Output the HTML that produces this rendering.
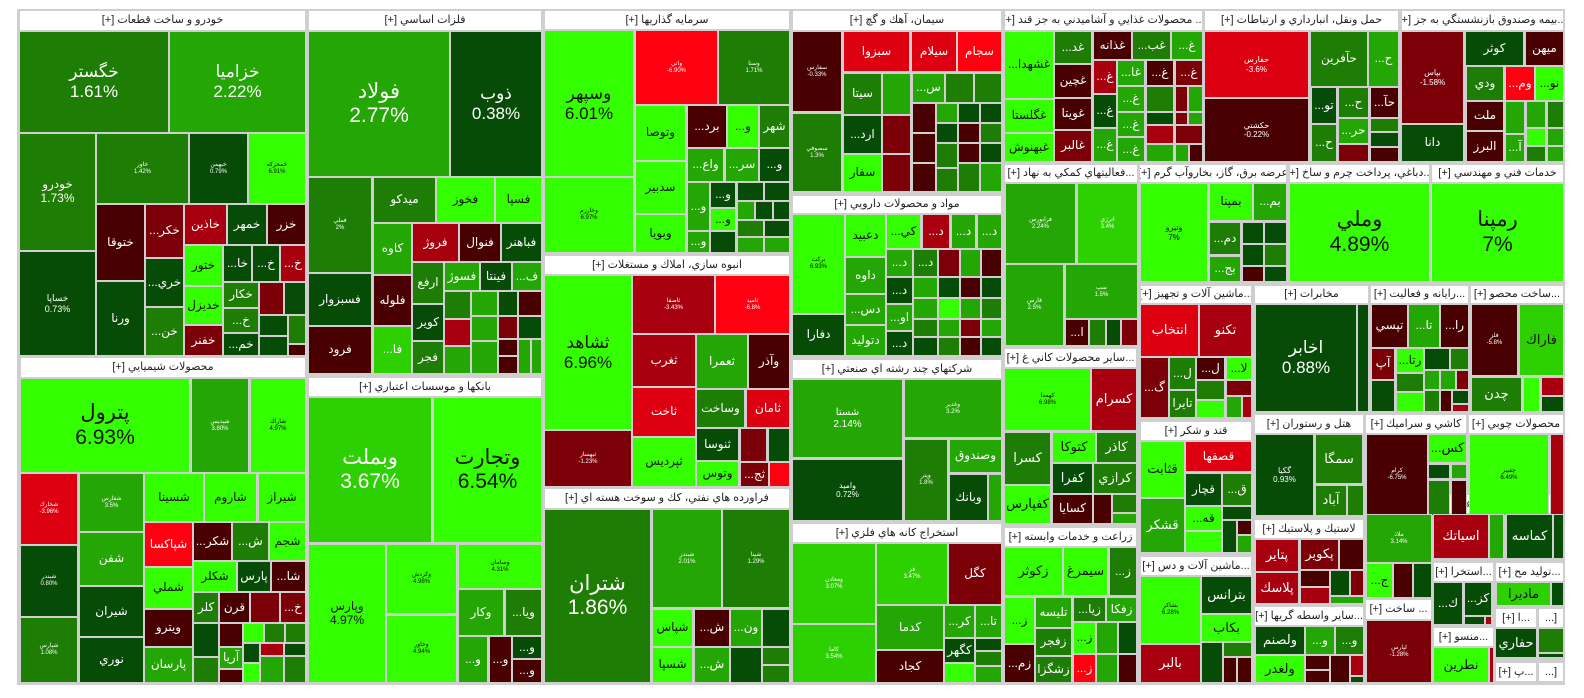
<!DOCTYPE html>
<html><head><meta charset="utf-8">
<style>
*{margin:0;padding:0}
body{width:1584px;height:698px;background:#fff;position:relative;overflow:hidden;font-family:"Liberation Sans","DejaVu Sans",sans-serif}
#bg{position:absolute;left:17px;top:9px;width:1548px;height:676px;background:#cfcfcf}
.t{position:absolute;box-sizing:border-box;border:1px solid #cfcfcf;display:flex;flex-direction:column;align-items:center;justify-content:center;text-align:center;color:#fff;font-size:12px;line-height:1.15;overflow:hidden;white-space:nowrap;
left:calc(var(--a)*1px);top:calc(var(--b)*1px);width:calc((var(--c) - var(--a) + 1)*1px);height:calc((var(--d) - var(--b) + 1)*1px)}
.h{background:#fff;color:#222;font-size:11px;direction:rtl}
.d{background:#064c06}.m{background:#1e7d04}.g{background:#24a604}.l{background:#2dd000}.b{background:#33ff00;color:#111}
.r1{background:#480000}.r2{background:#7b0008}.r3{background:#a8000e}.r4{background:#dd0010}.r5{background:#ff0010}
.L{font-size:17px}.X{font-size:21px}.S{font-size:6px}.k{color:#111}.M{font-size:13px}
</style></head><body>
<div id="bg"></div>
<div class="t h" style="--a:19;--b:10;--c:305;--d:30">خودرو و ساخت قطعات [+]</div>
<div class="t h" style="--a:20;--b:357;--c:305;--d:377">محصولات شيميايي [+]</div>
<div class="t h" style="--a:308;--b:10;--c:541;--d:30">فلزات اساسي [+]</div>
<div class="t h" style="--a:308;--b:377;--c:541;--d:396">بانكها و موسسات اعتباري [+]</div>
<div class="t h" style="--a:544;--b:10;--c:789;--d:29">سرمايه گذاريها [+]</div>
<div class="t h" style="--a:544;--b:255;--c:789;--d:274">انبوه سازي، املاك و مستغلات [+]</div>
<div class="t h" style="--a:544;--b:488;--c:789;--d:508">فراورده هاي نفتي، كك و سوخت هسته اي [+]</div>
<div class="t h" style="--a:792;--b:10;--c:1001;--d:30">سيمان، آهك و گچ [+]</div>
<div class="t h" style="--a:792;--b:195;--c:1001;--d:213">مواد و محصولات دارويي [+]</div>
<div class="t h" style="--a:792;--b:359;--c:1001;--d:378">شركتهاي چند رشته اي صنعتي [+]</div>
<div class="t h" style="--a:792;--b:523;--c:1001;--d:542">استخراج كانه هاي فلزي [+]</div>
<div class="t h" style="--a:1004;--b:10;--c:1202;--d:30">... محصولات غذايي و آشاميدني به جز قند [+]</div>
<div class="t h" style="--a:1204;--b:10;--c:1398;--d:30">حمل ونقل، انبارداري و ارتباطات [+]</div>
<div class="t h" style="--a:1401;--b:10;--c:1563;--d:30">...بيمه وصندوق بازنشستگي به جز [+]</div>
<div class="t h" style="--a:1004;--b:164;--c:1137;--d:182">...فعاليتهاي كمكي به نهاد [+]</div>
<div class="t h" style="--a:1139;--b:164;--c:1286;--d:182">عرضه برق، گاز، بخاروآب گرم [+]</div>
<div class="t h" style="--a:1289;--b:164;--c:1429;--d:182">...دباغي، پرداخت چرم و ساخ [+]</div>
<div class="t h" style="--a:1431;--b:164;--c:1563;--d:182">خدمات فني و مهندسي [+]</div>
<div class="t h" style="--a:1140;--b:285;--c:1251;--d:303">...ماشين آلات و تجهيز [+]</div>
<div class="t h" style="--a:1254;--b:285;--c:1368;--d:303">مخابرات [+]</div>
<div class="t h" style="--a:1370;--b:285;--c:1468;--d:303">...رايانه و فعاليت [+]</div>
<div class="t h" style="--a:1470;--b:285;--c:1563;--d:303">...ساخت محصو [+]</div>
<div class="t h" style="--a:1004;--b:348;--c:1136;--d:367">...ساير محصولات كاني غ [+]</div>
<div class="t h" style="--a:1140;--b:421;--c:1251;--d:440">قند و شكر [+]</div>
<div class="t h" style="--a:1254;--b:414;--c:1363;--d:433">هتل و رستوران [+]</div>
<div class="t h" style="--a:1365;--b:414;--c:1466;--d:433">كاشي و سراميك [+]</div>
<div class="t h" style="--a:1468;--b:414;--c:1563;--d:433">محصولات چوبي [+]</div>
<div class="t h" style="--a:1004;--b:527;--c:1136;--d:546">زراعت و خدمات وابسته [+]</div>
<div class="t h" style="--a:1140;--b:556;--c:1251;--d:575">...ماشين آلات و دس [+]</div>
<div class="t h" style="--a:1254;--b:519;--c:1363;--d:538">لاستيك و پلاستيك [+]</div>
<div class="t h" style="--a:1254;--b:606;--c:1363;--d:625">...ساير واسطه گريها [+]</div>
<div class="t h" style="--a:1365;--b:494;--c:1431;--d:513">...محصو [+]</div>
<div class="t h" style="--a:1365;--b:599;--c:1431;--d:619">... ساخت [+]</div>
<div class="t h" style="--a:1433;--b:494;--c:1503;--d:513">...اطلاعات [+]</div>
<div class="t h" style="--a:1505;--b:494;--c:1563;--d:513">...استخر [+]</div>
<div class="t h" style="--a:1433;--b:562;--c:1493;--d:581">...استخرا [+]</div>
<div class="t h" style="--a:1495;--b:562;--c:1563;--d:581">...توليد مح [+]</div>
<div class="t h" style="--a:1495;--b:608;--c:1536;--d:627">...ا [+]</div>
<div class="t h" style="--a:1538;--b:608;--c:1563;--d:627">[...</div>
<div class="t h" style="--a:1433;--b:627;--c:1493;--d:646">...منسو [+]</div>
<div class="t h" style="--a:1495;--b:662;--c:1536;--d:681">...پ [+]</div>
<div class="t h" style="--a:1538;--b:662;--c:1563;--d:681">[...</div>

<div class="t m L" style="--a:19;--b:31;--c:168;--d:132">خگستر<br>1.61%</div>
<div class="t g L" style="--a:169;--b:31;--c:305;--d:132">خزاميا<br>2.22%</div>
<div class="t m" style="--a:19;--b:133;--c:95;--d:250">خودرو<br>1.73%</div>
<div class="t d" style="--a:19;--b:251;--c:95;--d:355"><span style="font-size:9px">خساپا<br>0.73%</span></div>
<div class="t m S" style="--a:96;--b:133;--c:188;--d:203">خاور<br>1.42%</div>
<div class="t d S" style="--a:189;--b:133;--c:247;--d:203">خبهمن<br>0.79%</div>
<div class="t b S" style="--a:248;--b:133;--c:305;--d:203">خمحركه<br>6.91%</div>
<div class="t r1" style="--a:96;--b:204;--c:144;--d:280">ختوقا</div>
<div class="t d" style="--a:96;--b:281;--c:144;--d:355">ورنا</div>
<div class="t r2" style="--a:145;--b:204;--c:183;--d:257">...خكر</div>
<div class="t d" style="--a:145;--b:258;--c:183;--d:306">...خري</div>
<div class="t m" style="--a:145;--b:307;--c:183;--d:355">...خن</div>
<div class="t r3" style="--a:184;--b:204;--c:226;--d:244">خاذين</div>
<div class="t d" style="--a:227;--b:204;--c:266;--d:244">خمهر</div>
<div class="t r1" style="--a:267;--b:204;--c:305;--d:244">خزر</div>
<div class="t b" style="--a:184;--b:245;--c:222;--d:285">ختور</div>
<div class="t b" style="--a:184;--b:286;--c:222;--d:324">خديزل</div>
<div class="t r2" style="--a:184;--b:325;--c:222;--d:355">خفنر</div>
<div class="t d" style="--a:223;--b:245;--c:251;--d:281">...خا</div>
<div class="t d" style="--a:252;--b:245;--c:279;--d:281">...خ</div>
<div class="t r3" style="--a:280;--b:245;--c:305;--d:281">...خ</div>
<div class="t m" style="--a:223;--b:282;--c:258;--d:307">خكار</div>
<div class="t m" style="--a:223;--b:308;--c:258;--d:332">...خ</div>
<div class="t d" style="--a:223;--b:333;--c:258;--d:355">...خم</div>
<div class="t r2" style="--a:259;--b:282;--c:283;--d:314"></div>
<div class="t d" style="--a:284;--b:282;--c:305;--d:314"></div>
<div class="t d" style="--a:259;--b:315;--c:287;--d:335"></div>
<div class="t m" style="--a:288;--b:315;--c:305;--d:343"></div>
<div class="t d" style="--a:259;--b:336;--c:287;--d:355"></div>
<div class="t r1" style="--a:288;--b:344;--c:305;--d:355"></div>

<div class="t g X" style="--a:308;--b:31;--c:449;--d:176">فولاد<br>2.77%</div>
<div class="t d L" style="--a:450;--b:31;--c:541;--d:176">ذوب<br>0.38%</div>
<div class="t m S" style="--a:308;--b:177;--c:371;--d:272">فملي<br>2%</div>
<div class="t d" style="--a:308;--b:273;--c:371;--d:325">فسبزوار</div>
<div class="t r1" style="--a:308;--b:326;--c:371;--d:373">فرود</div>
<div class="t m" style="--a:373;--b:177;--c:435;--d:222">ميدكو</div>
<div class="t b" style="--a:436;--b:177;--c:494;--d:222">فخوز</div>
<div class="t b" style="--a:495;--b:177;--c:541;--d:222">فسپا</div>
<div class="t g" style="--a:373;--b:223;--c:411;--d:274">كاوه</div>
<div class="t r1" style="--a:373;--b:275;--c:411;--d:325">فلوله</div>
<div class="t l" style="--a:373;--b:326;--c:411;--d:373">...فا</div>
<div class="t r3" style="--a:412;--b:223;--c:458;--d:261">فروژ</div>
<div class="t r1" style="--a:459;--b:223;--c:500;--d:261">فنوال</div>
<div class="t d" style="--a:501;--b:223;--c:541;--d:261">فباهنر</div>
<div class="t m" style="--a:412;--b:262;--c:443;--d:303">ارفع</div>
<div class="t d" style="--a:412;--b:304;--c:443;--d:340">كوير</div>
<div class="t m" style="--a:412;--b:341;--c:443;--d:373">فجر</div>
<div class="t g" style="--a:444;--b:262;--c:479;--d:290">فسوژ</div>
<div class="t d" style="--a:480;--b:262;--c:511;--d:290">فينتا</div>
<div class="t g" style="--a:512;--b:262;--c:541;--d:290">...ف</div>
<div class="t m" style="--a:444;--b:291;--c:470;--d:318"></div>
<div class="t g" style="--a:471;--b:291;--c:497;--d:315"></div>
<div class="t d" style="--a:498;--b:291;--c:517;--d:315"></div>
<div class="t r1" style="--a:518;--b:291;--c:541;--d:315"></div>
<div class="t r3" style="--a:444;--b:319;--c:470;--d:345"></div>
<div class="t g" style="--a:471;--b:316;--c:497;--d:340"></div>
<div class="t r2" style="--a:498;--b:316;--c:517;--d:338"></div>
<div class="t d" style="--a:518;--b:316;--c:541;--d:338"></div>
<div class="t g" style="--a:444;--b:346;--c:470;--d:373"></div>
<div class="t g" style="--a:471;--b:341;--c:497;--d:373"></div>
<div class="t r1" style="--a:498;--b:339;--c:517;--d:355"></div>
<div class="t r1" style="--a:498;--b:356;--c:517;--d:373"></div>
<div class="t g" style="--a:518;--b:339;--c:530;--d:373"></div>
<div class="t g" style="--a:531;--b:339;--c:541;--d:373"></div>

<div class="t b X" style="--a:20;--b:378;--c:189;--d:472">پترول<br>6.93%</div>
<div class="t g S" style="--a:191;--b:378;--c:248;--d:472">شپديس<br>3.80%</div>
<div class="t b S" style="--a:250;--b:378;--c:305;--d:472">شاراك<br>4.97%</div>
<div class="t r4 S" style="--a:20;--b:473;--c:77;--d:544">شخارك<br>-3.96%</div>
<div class="t d S" style="--a:20;--b:545;--c:77;--d:616">شبندر<br>0.80%</div>
<div class="t m S" style="--a:20;--b:617;--c:77;--d:682">شپارس<br>1.08%</div>
<div class="t g S" style="--a:79;--b:473;--c:143;--d:531">شفارس<br>3.5%</div>
<div class="t g" style="--a:79;--b:532;--c:143;--d:585">شفن</div>
<div class="t d" style="--a:79;--b:586;--c:143;--d:636">شيران</div>
<div class="t d" style="--a:79;--b:637;--c:143;--d:682">نوري</div>
<div class="t b" style="--a:144;--b:473;--c:203;--d:521">شسينا</div>
<div class="t b" style="--a:204;--b:473;--c:256;--d:521">شاروم</div>
<div class="t b" style="--a:258;--b:473;--c:305;--d:521">شيراز</div>
<div class="t r5" style="--a:144;--b:522;--c:192;--d:566">شپاكسا</div>
<div class="t b" style="--a:144;--b:567;--c:192;--d:608">شملي</div>
<div class="t r1" style="--a:144;--b:609;--c:192;--d:646">ويترو</div>
<div class="t g" style="--a:144;--b:647;--c:192;--d:682">پارسان</div>
<div class="t r1" style="--a:193;--b:522;--c:231;--d:560">...شكر</div>
<div class="t m" style="--a:232;--b:522;--c:268;--d:560">...ش</div>
<div class="t b" style="--a:269;--b:522;--c:305;--d:560">شجم</div>
<div class="t b" style="--a:193;--b:561;--c:236;--d:591">شكلر</div>
<div class="t d" style="--a:237;--b:561;--c:270;--d:591">پارس</div>
<div class="t r1" style="--a:271;--b:561;--c:305;--d:591">...شا</div>
<div class="t m" style="--a:193;--b:592;--c:218;--d:622">كلر</div>
<div class="t r1" style="--a:219;--b:592;--c:249;--d:622">قرن</div>
<div class="t r2" style="--a:250;--b:592;--c:279;--d:622"></div>
<div class="t r2" style="--a:280;--b:592;--c:305;--d:622">...خ</div>
<div class="t d" style="--a:193;--b:623;--c:218;--d:656"></div>
<div class="t m" style="--a:193;--b:657;--c:218;--d:682"></div>
<div class="t r1" style="--a:219;--b:623;--c:242;--d:646"></div>
<div class="t g" style="--a:219;--b:647;--c:242;--d:668">آريا</div>
<div class="t r1" style="--a:219;--b:669;--c:242;--d:682"></div>
<div class="t b" style="--a:243;--b:623;--c:263;--d:642"></div>
<div class="t m" style="--a:264;--b:623;--c:284;--d:642"></div>
<div class="t m" style="--a:285;--b:623;--c:305;--d:642"></div>
<div class="t d" style="--a:243;--b:643;--c:259;--d:662"></div>
<div class="t r3" style="--a:260;--b:643;--c:283;--d:655"></div>
<div class="t d" style="--a:284;--b:643;--c:305;--d:655"></div>
<div class="t b" style="--a:243;--b:663;--c:259;--d:682"></div>
<div class="t g" style="--a:260;--b:656;--c:283;--d:682"></div>
<div class="t m" style="--a:284;--b:656;--c:305;--d:682"></div>

<div class="t l X" style="--a:308;--b:397;--c:431;--d:542">وبملت<br>3.67%</div>
<div class="t b X" style="--a:433;--b:397;--c:541;--d:542">وتجارت<br>6.54%</div>
<div class="t b" style="--a:308;--b:544;--c:385;--d:682">وپارس<br>4.97%</div>
<div class="t b S" style="--a:386;--b:544;--c:456;--d:613">وكردش<br>4.98%</div>
<div class="t b S" style="--a:386;--b:615;--c:456;--d:682">وخاور<br>4.94%</div>
<div class="t b S" style="--a:458;--b:544;--c:541;--d:588">وسامان<br>4.31%</div>
<div class="t g" style="--a:458;--b:589;--c:503;--d:635">وكار</div>
<div class="t m" style="--a:505;--b:589;--c:541;--d:635">...ويا</div>
<div class="t g" style="--a:458;--b:636;--c:487;--d:682">...و</div>
<div class="t r1" style="--a:489;--b:636;--c:511;--d:682">...و</div>
<div class="t d" style="--a:512;--b:636;--c:541;--d:658">...و</div>
<div class="t r1" style="--a:512;--b:659;--c:541;--d:682">...و</div>

<div class="t b L" style="--a:544;--b:30;--c:633;--d:176">وسپهر<br>6.01%</div>
<div class="t b S" style="--a:544;--b:177;--c:633;--d:252">وخارزم<br>6.97%</div>
<div class="t r5 S" style="--a:635;--b:30;--c:717;--d:104">واتي<br>-6.90%</div>
<div class="t m S" style="--a:718;--b:30;--c:789;--d:104">وسنا<br>1.71%</div>
<div class="t b" style="--a:635;--b:105;--c:685;--d:160">وتوصا</div>
<div class="t b" style="--a:635;--b:161;--c:685;--d:213">سدبير</div>
<div class="t b" style="--a:635;--b:214;--c:685;--d:252">وبويا</div>
<div class="t r1" style="--a:687;--b:105;--c:726;--d:147">...برد</div>
<div class="t b" style="--a:727;--b:105;--c:758;--d:147">...و</div>
<div class="t m" style="--a:759;--b:105;--c:789;--d:147">شهر</div>
<div class="t g" style="--a:687;--b:148;--c:723;--d:181">...واع</div>
<div class="t g" style="--a:725;--b:148;--c:758;--d:181">...سر</div>
<div class="t d" style="--a:759;--b:148;--c:789;--d:181">...و</div>
<div class="t g" style="--a:687;--b:182;--c:709;--d:230">...و</div>
<div class="t g" style="--a:687;--b:231;--c:709;--d:252">...و</div>
<div class="t d" style="--a:710;--b:182;--c:735;--d:207">...و</div>
<div class="t b" style="--a:710;--b:208;--c:735;--d:230">...و</div>
<div class="t d" style="--a:710;--b:231;--c:735;--d:252"></div>
<div class="t d" style="--a:737;--b:182;--c:763;--d:200"></div>
<div class="t d" style="--a:764;--b:182;--c:789;--d:200"></div>
<div class="t g" style="--a:737;--b:201;--c:754;--d:219"></div>
<div class="t d" style="--a:755;--b:201;--c:772;--d:219"></div>
<div class="t d" style="--a:773;--b:201;--c:789;--d:219"></div>
<div class="t m" style="--a:737;--b:220;--c:763;--d:236"></div>
<div class="t d" style="--a:764;--b:220;--c:789;--d:236"></div>
<div class="t g" style="--a:737;--b:237;--c:763;--d:252"></div>
<div class="t g" style="--a:764;--b:237;--c:789;--d:252"></div>

<div class="t b L" style="--a:544;--b:275;--c:631;--d:429">ثشاهد<br>6.96%</div>
<div class="t r2 S" style="--a:544;--b:430;--c:631;--d:486">ثبهساز<br>-1.23%</div>
<div class="t r3 S" style="--a:632;--b:275;--c:714;--d:333">ثاصفا<br>-3.43%</div>
<div class="t r5 S" style="--a:715;--b:275;--c:789;--d:333">ثاميد<br>-6.8%</div>
<div class="t r3" style="--a:632;--b:334;--c:695;--d:386">ثغرب</div>
<div class="t r4" style="--a:632;--b:387;--c:695;--d:436">ثاخت</div>
<div class="t b" style="--a:632;--b:437;--c:695;--d:486">ثپرديس</div>
<div class="t g" style="--a:696;--b:334;--c:747;--d:388">ثعمرا</div>
<div class="t r1" style="--a:748;--b:334;--c:789;--d:388">وآذر</div>
<div class="t m" style="--a:696;--b:389;--c:744;--d:427">وساخت</div>
<div class="t r4" style="--a:746;--b:389;--c:789;--d:427">ثامان</div>
<div class="t d" style="--a:696;--b:428;--c:738;--d:460">ثنوسا</div>
<div class="t b" style="--a:696;--b:461;--c:738;--d:486">وتوس</div>
<div class="t r2" style="--a:740;--b:428;--c:766;--d:461"></div>
<div class="t d" style="--a:768;--b:428;--c:789;--d:461"></div>
<div class="t r2" style="--a:740;--b:462;--c:768;--d:486">...ثج</div>
<div class="t r5" style="--a:769;--b:462;--c:789;--d:486"></div>

<div class="t m X" style="--a:544;--b:509;--c:650;--d:682">شتران<br>1.86%</div>
<div class="t g S" style="--a:652;--b:509;--c:721;--d:607">شبندر<br>2.01%</div>
<div class="t m S" style="--a:722;--b:509;--c:789;--d:607">شپنا<br>1.29%</div>
<div class="t b" style="--a:652;--b:609;--c:692;--d:646">شپاس</div>
<div class="t b" style="--a:652;--b:647;--c:692;--d:682">شسپا</div>
<div class="t r1" style="--a:694;--b:609;--c:729;--d:646">...ش</div>
<div class="t g" style="--a:694;--b:647;--c:729;--d:682">...ش</div>
<div class="t g" style="--a:730;--b:609;--c:761;--d:646">...ون</div>
<div class="t d" style="--a:762;--b:609;--c:789;--d:646"></div>
<div class="t d" style="--a:730;--b:647;--c:761;--d:682"></div>
<div class="t m" style="--a:762;--b:647;--c:789;--d:664"></div>
<div class="t m" style="--a:762;--b:665;--c:789;--d:682"></div>

<div class="t r1 S" style="--a:792;--b:31;--c:841;--d:111">سفارس<br>-0.33%</div>
<div class="t m S" style="--a:792;--b:113;--c:841;--d:191">سصوفي<br>1.3%</div>
<div class="t r4" style="--a:843;--b:31;--c:909;--d:71">سبزوا</div>
<div class="t r4" style="--a:911;--b:31;--c:956;--d:71">سيلام</div>
<div class="t r5" style="--a:957;--b:31;--c:1001;--d:71">سجام</div>
<div class="t m" style="--a:843;--b:73;--c:881;--d:114">سيتا</div>
<div class="t g" style="--a:882;--b:73;--c:910;--d:114"></div>
<div class="t g" style="--a:912;--b:73;--c:944;--d:102">...س</div>
<div class="t m" style="--a:945;--b:73;--c:973;--d:102"></div>
<div class="t m" style="--a:974;--b:73;--c:1001;--d:102"></div>
<div class="t d" style="--a:843;--b:115;--c:881;--d:153">...ارد</div>
<div class="t b" style="--a:843;--b:154;--c:881;--d:191">سفار</div>
<div class="t r2" style="--a:882;--b:115;--c:910;--d:153"></div>
<div class="t r2" style="--a:882;--b:154;--c:910;--d:191"></div>
<div class="t r1" style="--a:912;--b:103;--c:935;--d:132"></div>
<div class="t g" style="--a:936;--b:103;--c:957;--d:122"></div>
<div class="t d" style="--a:958;--b:103;--c:979;--d:122"></div>
<div class="t d" style="--a:980;--b:103;--c:1001;--d:122"></div>
<div class="t r1" style="--a:912;--b:133;--c:935;--d:162"></div>
<div class="t d" style="--a:936;--b:123;--c:957;--d:142"></div>
<div class="t r1" style="--a:958;--b:123;--c:979;--d:142"></div>
<div class="t m" style="--a:980;--b:123;--c:1001;--d:142"></div>
<div class="t r1" style="--a:912;--b:163;--c:935;--d:191"></div>
<div class="t m" style="--a:936;--b:143;--c:957;--d:167"></div>
<div class="t r1" style="--a:958;--b:143;--c:979;--d:162"></div>
<div class="t d" style="--a:980;--b:143;--c:1001;--d:162"></div>
<div class="t m" style="--a:936;--b:168;--c:957;--d:191"></div>
<div class="t m" style="--a:958;--b:163;--c:979;--d:191"></div>
<div class="t g" style="--a:980;--b:163;--c:1001;--d:191"></div>

<div class="t b S" style="--a:792;--b:214;--c:844;--d:313">بركت<br>6.93%</div>
<div class="t d" style="--a:792;--b:314;--c:844;--d:355">دفارا</div>
<div class="t b" style="--a:845;--b:214;--c:885;--d:256">دعبيد</div>
<div class="t g" style="--a:845;--b:257;--c:885;--d:293">داوه</div>
<div class="t g" style="--a:845;--b:294;--c:885;--d:324">...دس</div>
<div class="t g" style="--a:845;--b:325;--c:885;--d:355">دتوليد</div>
<div class="t b" style="--a:886;--b:214;--c:920;--d:248">...كي</div>
<div class="t r3" style="--a:922;--b:214;--c:949;--d:248">...د</div>
<div class="t g" style="--a:951;--b:214;--c:975;--d:248">...د</div>
<div class="t g" style="--a:977;--b:214;--c:1001;--d:248">...د</div>
<div class="t g" style="--a:886;--b:249;--c:912;--d:276">...د</div>
<div class="t m" style="--a:913;--b:249;--c:937;--d:276">...د</div>
<div class="t r2" style="--a:938;--b:249;--c:959;--d:276"></div>
<div class="t g" style="--a:960;--b:249;--c:980;--d:276"></div>
<div class="t r1" style="--a:981;--b:249;--c:1001;--d:276"></div>
<div class="t d" style="--a:886;--b:277;--c:912;--d:303">...د</div>
<div class="t g" style="--a:886;--b:304;--c:912;--d:330">...او</div>
<div class="t d" style="--a:886;--b:331;--c:912;--d:355">...د</div>
<div class="t g" style="--a:913;--b:277;--c:937;--d:297"></div>
<div class="t d" style="--a:938;--b:277;--c:959;--d:297"></div>
<div class="t r1" style="--a:960;--b:277;--c:980;--d:297"></div>
<div class="t d" style="--a:981;--b:277;--c:1001;--d:297"></div>
<div class="t g" style="--a:913;--b:298;--c:937;--d:318"></div>
<div class="t b" style="--a:938;--b:298;--c:959;--d:318"></div>
<div class="t g" style="--a:960;--b:298;--c:980;--d:318"></div>
<div class="t m" style="--a:981;--b:298;--c:1001;--d:318"></div>
<div class="t m" style="--a:913;--b:319;--c:937;--d:336"></div>
<div class="t g" style="--a:938;--b:319;--c:959;--d:336"></div>
<div class="t r2" style="--a:960;--b:319;--c:980;--d:336"></div>
<div class="t g" style="--a:981;--b:319;--c:1001;--d:336"></div>
<div class="t d" style="--a:913;--b:337;--c:937;--d:355"></div>
<div class="t m" style="--a:938;--b:337;--c:959;--d:355"></div>
<div class="t r1" style="--a:960;--b:337;--c:980;--d:355"></div>
<div class="t d" style="--a:981;--b:337;--c:1001;--d:355"></div>

<div class="t g" style="--a:792;--b:379;--c:902;--d:457"><span style="font-size:10px">شستا<br>2.14%</span></div>
<div class="t d" style="--a:792;--b:459;--c:902;--d:520"><span style="font-size:8px">واميد<br>0.72%</span></div>
<div class="t g S" style="--a:904;--b:379;--c:1001;--d:437">وغدير<br>3.2%</div>
<div class="t m S" style="--a:904;--b:439;--c:947;--d:520">وپتر<br>1.8%</div>
<div class="t g" style="--a:949;--b:439;--c:1001;--d:472">وصندوق</div>
<div class="t d" style="--a:949;--b:474;--c:987;--d:520">وبانك</div>
<div class="t g" style="--a:988;--b:474;--c:1001;--d:520"></div>

<div class="t l S" style="--a:792;--b:543;--c:875;--d:623">ومعادن<br>3.07%</div>
<div class="t l S" style="--a:792;--b:624;--c:875;--d:682">كاما<br>3.54%</div>
<div class="t l S" style="--a:876;--b:543;--c:947;--d:604">فز<br>3.47%</div>
<div class="t r2" style="--a:948;--b:543;--c:1001;--d:604">كگل</div>
<div class="t g" style="--a:876;--b:605;--c:943;--d:649">كدما</div>
<div class="t r1" style="--a:876;--b:650;--c:943;--d:682">كجاد</div>
<div class="t g" style="--a:944;--b:605;--c:974;--d:637">...كر</div>
<div class="t g" style="--a:975;--b:605;--c:1001;--d:637">...تا</div>
<div class="t d" style="--a:944;--b:638;--c:974;--d:662">كگهر</div>
<div class="t b" style="--a:944;--b:663;--c:974;--d:682"></div>
<div class="t d" style="--a:975;--b:638;--c:1001;--d:650"></div>
<div class="t m" style="--a:975;--b:651;--c:1001;--d:665"></div>
<div class="t g" style="--a:975;--b:666;--c:1001;--d:682"></div>

<div class="t b" style="--a:1004;--b:31;--c:1053;--d:98">...غشهدا</div>
<div class="t b" style="--a:1004;--b:99;--c:1053;--d:132">غگلستا</div>
<div class="t b" style="--a:1004;--b:133;--c:1053;--d:161">غبهنوش</div>
<div class="t m" style="--a:1054;--b:31;--c:1091;--d:63">...غد</div>
<div class="t r1" style="--a:1093;--b:31;--c:1131;--d:59">غذانه</div>
<div class="t m" style="--a:1132;--b:31;--c:1170;--d:59">...غب</div>
<div class="t g" style="--a:1171;--b:31;--c:1202;--d:59">...غ</div>
<div class="t r1" style="--a:1054;--b:64;--c:1091;--d:97">غچين</div>
<div class="t r1" style="--a:1054;--b:98;--c:1091;--d:129">غويتا</div>
<div class="t r2" style="--a:1054;--b:130;--c:1091;--d:161">غالبر</div>
<div class="t r3" style="--a:1093;--b:60;--c:1116;--d:93">...غ</div>
<div class="t d" style="--a:1093;--b:94;--c:1116;--d:127">...غ</div>
<div class="t g" style="--a:1093;--b:128;--c:1116;--d:161">...غ</div>
<div class="t g" style="--a:1117;--b:60;--c:1144;--d:85">...غا</div>
<div class="t r1" style="--a:1146;--b:60;--c:1173;--d:85">...غ</div>
<div class="t r2" style="--a:1175;--b:60;--c:1202;--d:85">...غ</div>
<div class="t g" style="--a:1117;--b:86;--c:1144;--d:111">...غ</div>
<div class="t m" style="--a:1146;--b:86;--c:1173;--d:111"></div>
<div class="t r2" style="--a:1175;--b:86;--c:1187;--d:111"></div>
<div class="t g" style="--a:1188;--b:86;--c:1202;--d:111"></div>
<div class="t g" style="--a:1117;--b:112;--c:1144;--d:136">...غ</div>
<div class="t d" style="--a:1146;--b:112;--c:1173;--d:124"></div>
<div class="t r2" style="--a:1175;--b:112;--c:1187;--d:124"></div>
<div class="t g" style="--a:1188;--b:112;--c:1202;--d:124"></div>
<div class="t g" style="--a:1117;--b:137;--c:1144;--d:161">...غ</div>
<div class="t r3" style="--a:1146;--b:125;--c:1173;--d:143"></div>
<div class="t r2" style="--a:1175;--b:125;--c:1202;--d:143"></div>
<div class="t g" style="--a:1146;--b:144;--c:1173;--d:161"></div>
<div class="t g" style="--a:1175;--b:144;--c:1188;--d:161"></div>
<div class="t r1" style="--a:1189;--b:144;--c:1202;--d:161"></div>

<div class="t r4" style="--a:1204;--b:31;--c:1308;--d:97"><span style="font-size:8px">حفارس<br>-3.6%</span></div>
<div class="t r1" style="--a:1204;--b:98;--c:1308;--d:161"><span style="font-size:8px">حكشتي<br>-0.22%</span></div>
<div class="t m" style="--a:1310;--b:31;--c:1367;--d:86">حآفرين</div>
<div class="t g" style="--a:1368;--b:31;--c:1398;--d:86">...ح</div>
<div class="t d" style="--a:1311;--b:87;--c:1336;--d:123">...تو</div>
<div class="t m" style="--a:1311;--b:124;--c:1336;--d:161">...ح</div>
<div class="t m" style="--a:1338;--b:87;--c:1368;--d:117">...ح</div>
<div class="t g" style="--a:1338;--b:118;--c:1368;--d:143">...حر</div>
<div class="t r2" style="--a:1338;--b:144;--c:1368;--d:161"></div>
<div class="t r1" style="--a:1370;--b:87;--c:1398;--d:117">...حآ</div>
<div class="t m" style="--a:1370;--b:118;--c:1398;--d:131"></div>
<div class="t d" style="--a:1370;--b:132;--c:1398;--d:146"></div>
<div class="t r1" style="--a:1370;--b:147;--c:1398;--d:161"></div>

<div class="t r2" style="--a:1401;--b:31;--c:1463;--d:123"><span style="font-size:8px">بپاس<br>-1.58%</span></div>
<div class="t d" style="--a:1401;--b:124;--c:1463;--d:161">دانا</div>
<div class="t d" style="--a:1465;--b:31;--c:1523;--d:65">كوثر</div>
<div class="t r1" style="--a:1525;--b:31;--c:1563;--d:65">ميهن</div>
<div class="t m" style="--a:1466;--b:66;--c:1503;--d:100">ودي</div>
<div class="t r5" style="--a:1505;--b:66;--c:1534;--d:100">...وم</div>
<div class="t b" style="--a:1535;--b:66;--c:1563;--d:100">...نو</div>
<div class="t r1" style="--a:1466;--b:101;--c:1503;--d:130">ملت</div>
<div class="t r1" style="--a:1466;--b:131;--c:1503;--d:161">البرز</div>
<div class="t g" style="--a:1505;--b:101;--c:1524;--d:133"></div>
<div class="t g" style="--a:1505;--b:134;--c:1524;--d:161">...آ</div>
<div class="t g" style="--a:1526;--b:101;--c:1545;--d:127"></div>
<div class="t b" style="--a:1526;--b:128;--c:1545;--d:145"></div>
<div class="t m" style="--a:1526;--b:146;--c:1545;--d:161"></div>
<div class="t m" style="--a:1547;--b:101;--c:1563;--d:127"></div>
<div class="t g" style="--a:1547;--b:128;--c:1563;--d:145"></div>
<div class="t g" style="--a:1547;--b:146;--c:1563;--d:161"></div>

<div class="t g S" style="--a:1005;--b:183;--c:1075;--d:263">فرابورس<br>2.24%</div>
<div class="t l S" style="--a:1077;--b:183;--c:1137;--d:263">انرژي<br>3.4%</div>
<div class="t g S" style="--a:1005;--b:264;--c:1063;--d:345">فارس<br>2.5%</div>
<div class="t g S" style="--a:1065;--b:264;--c:1137;--d:318">سپ<br>1.5%</div>
<div class="t r1" style="--a:1065;--b:319;--c:1088;--d:345">...ا</div>
<div class="t m" style="--a:1089;--b:319;--c:1105;--d:345"></div>
<div class="t d" style="--a:1106;--b:319;--c:1120;--d:345"></div>
<div class="t r2" style="--a:1121;--b:319;--c:1137;--d:345"></div>

<div class="t b" style="--a:1140;--b:183;--c:1207;--d:281"><span style="font-size:8px">وتيرو<br>7%</span></div>
<div class="t b" style="--a:1209;--b:183;--c:1252;--d:220">بمپنا</div>
<div class="t g" style="--a:1253;--b:183;--c:1286;--d:220">...بم</div>
<div class="t m" style="--a:1209;--b:222;--c:1240;--d:254">...دم</div>
<div class="t g" style="--a:1209;--b:256;--c:1240;--d:281">...بج</div>
<div class="t d" style="--a:1242;--b:222;--c:1263;--d:243"></div>
<div class="t d" style="--a:1264;--b:222;--c:1286;--d:243"></div>
<div class="t d" style="--a:1242;--b:244;--c:1263;--d:265"></div>
<div class="t m" style="--a:1264;--b:244;--c:1286;--d:265"></div>
<div class="t r1" style="--a:1242;--b:266;--c:1263;--d:281"></div>
<div class="t d" style="--a:1264;--b:266;--c:1286;--d:281"></div>

<div class="t b X" style="--a:1289;--b:183;--c:1429;--d:281">وملي<br>4.89%</div>
<div class="t b X" style="--a:1431;--b:183;--c:1563;--d:281">رمپنا<br>7%</div>

<div class="t r4 M" style="--a:1140;--b:304;--c:1198;--d:356">انتخاب</div>
<div class="t r3 M" style="--a:1199;--b:304;--c:1251;--d:356">تكنو</div>
<div class="t r2" style="--a:1140;--b:357;--c:1168;--d:417">...گ</div>
<div class="t m" style="--a:1169;--b:357;--c:1195;--d:389">...ل</div>
<div class="t m" style="--a:1169;--b:390;--c:1195;--d:417">تايرا</div>
<div class="t r1" style="--a:1196;--b:357;--c:1224;--d:379">...ل</div>
<div class="t b" style="--a:1226;--b:357;--c:1251;--d:379">...لا</div>
<div class="t m" style="--a:1196;--b:380;--c:1224;--d:399"></div>
<div class="t r2" style="--a:1226;--b:380;--c:1251;--d:395"></div>
<div class="t b" style="--a:1196;--b:400;--c:1224;--d:417"></div>
<div class="t g" style="--a:1226;--b:396;--c:1241;--d:417"></div>
<div class="t r3" style="--a:1242;--b:396;--c:1251;--d:417"></div>

<div class="t b S" style="--a:1004;--b:368;--c:1090;--d:430">كهمدا<br>6.98%</div>
<div class="t r3 M" style="--a:1091;--b:368;--c:1136;--d:430">كسرام</div>
<div class="t m M" style="--a:1004;--b:432;--c:1050;--d:484">كسرا</div>
<div class="t b M" style="--a:1004;--b:485;--c:1050;--d:523">كفپارس</div>
<div class="t b M" style="--a:1052;--b:432;--c:1095;--d:462">كتوكا</div>
<div class="t m M" style="--a:1096;--b:432;--c:1136;--d:462">كاذر</div>
<div class="t d M" style="--a:1052;--b:463;--c:1092;--d:493">كفرا</div>
<div class="t m M" style="--a:1093;--b:463;--c:1136;--d:493">كرازي</div>
<div class="t r1" style="--a:1052;--b:494;--c:1092;--d:523">كسايا</div>
<div class="t r1" style="--a:1093;--b:494;--c:1111;--d:523"></div>
<div class="t m" style="--a:1112;--b:494;--c:1136;--d:512"></div>
<div class="t g" style="--a:1112;--b:513;--c:1136;--d:523"></div>

<div class="t b M" style="--a:1004;--b:547;--c:1062;--d:595">زكوثر</div>
<div class="t b M" style="--a:1063;--b:547;--c:1107;--d:595">سيمرغ</div>
<div class="t m" style="--a:1109;--b:547;--c:1136;--d:595">...ز</div>
<div class="t b" style="--a:1004;--b:597;--c:1034;--d:643">...ز</div>
<div class="t r1" style="--a:1004;--b:644;--c:1034;--d:682">...زم</div>
<div class="t g" style="--a:1035;--b:597;--c:1071;--d:627">تليسه</div>
<div class="t m" style="--a:1035;--b:628;--c:1071;--d:655">زفجر</div>
<div class="t m" style="--a:1035;--b:656;--c:1071;--d:682">زشگزا</div>
<div class="t m" style="--a:1073;--b:597;--c:1105;--d:621">...زيا</div>
<div class="t g" style="--a:1106;--b:597;--c:1136;--d:621">زفكا</div>
<div class="t b" style="--a:1073;--b:622;--c:1095;--d:653">...ز</div>
<div class="t r5" style="--a:1073;--b:654;--c:1095;--d:682">...ز</div>
<div class="t g" style="--a:1096;--b:622;--c:1117;--d:653"></div>
<div class="t d" style="--a:1118;--b:622;--c:1136;--d:653"></div>
<div class="t g" style="--a:1096;--b:654;--c:1117;--d:682"></div>
<div class="t r1" style="--a:1118;--b:654;--c:1136;--d:682"></div>

<div class="t b M" style="--a:1140;--b:441;--c:1184;--d:497">قثابت</div>
<div class="t g M" style="--a:1140;--b:498;--c:1184;--d:552">قشكر</div>
<div class="t r4" style="--a:1185;--b:441;--c:1251;--d:471">قصفها</div>
<div class="t d" style="--a:1185;--b:473;--c:1221;--d:505">قچار</div>
<div class="t m" style="--a:1222;--b:473;--c:1251;--d:505">...ق</div>
<div class="t b" style="--a:1185;--b:506;--c:1221;--d:530">...قه</div>
<div class="t b" style="--a:1185;--b:531;--c:1221;--d:552"></div>
<div class="t d" style="--a:1222;--b:506;--c:1251;--d:519"></div>
<div class="t d" style="--a:1222;--b:520;--c:1236;--d:552"></div>
<div class="t r1" style="--a:1237;--b:520;--c:1251;--d:534"></div>
<div class="t g" style="--a:1237;--b:535;--c:1251;--d:552"></div>

<div class="t b S" style="--a:1140;--b:576;--c:1200;--d:643">بشاكر<br>6.28%</div>
<div class="t r3 M" style="--a:1140;--b:644;--c:1200;--d:682">بالبر</div>
<div class="t d M" style="--a:1201;--b:576;--c:1251;--d:613">بترانس</div>
<div class="t b M" style="--a:1201;--b:614;--c:1251;--d:641">بكاب</div>
<div class="t d" style="--a:1201;--b:642;--c:1222;--d:682"></div>
<div class="t m" style="--a:1223;--b:642;--c:1251;--d:656"></div>
<div class="t r1" style="--a:1223;--b:657;--c:1236;--d:682"></div>
<div class="t r1" style="--a:1237;--b:657;--c:1251;--d:682"></div>

<div class="t d L" style="--a:1255;--b:304;--c:1356;--d:411">اخابر<br>0.88%</div>
<div class="t d" style="--a:1357;--b:304;--c:1368;--d:411"></div>

<div class="t r1" style="--a:1371;--b:304;--c:1407;--d:347">تپسي</div>
<div class="t g" style="--a:1408;--b:304;--c:1439;--d:347">...تا</div>
<div class="t r1" style="--a:1440;--b:304;--c:1468;--d:347">...را</div>
<div class="t r2" style="--a:1371;--b:348;--c:1394;--d:379">آپ</div>
<div class="t d" style="--a:1371;--b:380;--c:1394;--d:411"></div>
<div class="t b" style="--a:1396;--b:348;--c:1423;--d:372">...رتا</div>
<div class="t d" style="--a:1424;--b:348;--c:1449;--d:369"></div>
<div class="t m" style="--a:1450;--b:348;--c:1468;--d:369"></div>
<div class="t m" style="--a:1396;--b:373;--c:1423;--d:391"></div>
<div class="t b" style="--a:1396;--b:392;--c:1423;--d:411"></div>
<div class="t g" style="--a:1424;--b:370;--c:1439;--d:389"></div>
<div class="t g" style="--a:1440;--b:370;--c:1455;--d:389"></div>
<div class="t r2" style="--a:1456;--b:370;--c:1468;--d:389"></div>
<div class="t m" style="--a:1424;--b:390;--c:1439;--d:411"></div>
<div class="t r1" style="--a:1440;--b:390;--c:1451;--d:411"></div>
<div class="t d" style="--a:1452;--b:390;--c:1468;--d:403"></div>
<div class="t r3" style="--a:1452;--b:404;--c:1468;--d:411"></div>

<div class="t r1 S" style="--a:1471;--b:304;--c:1517;--d:375">فلز<br>-5.8%</div>
<div class="t l M k" style="--a:1519;--b:304;--c:1563;--d:375">فاراك</div>
<div class="t m M" style="--a:1471;--b:377;--c:1521;--d:411">چدن</div>
<div class="t b" style="--a:1523;--b:377;--c:1539;--d:411"></div>
<div class="t r3" style="--a:1541;--b:377;--c:1563;--d:395"></div>
<div class="t d" style="--a:1541;--b:396;--c:1563;--d:411"></div>

<div class="t d" style="--a:1255;--b:434;--c:1313;--d:515"><span style="font-size:8px">گكيا<br>0.93%</span></div>
<div class="t m M" style="--a:1315;--b:434;--c:1362;--d:483">سمگا</div>
<div class="t m M" style="--a:1315;--b:485;--c:1346;--d:515">آباد</div>
<div class="t m" style="--a:1347;--b:485;--c:1363;--d:515"></div>

<div class="t r1 S" style="--a:1366;--b:434;--c:1427;--d:515">كرام<br>-6.75%</div>
<div class="t b M" style="--a:1428;--b:434;--c:1466;--d:462">...كس</div>
<div class="t d" style="--a:1428;--b:464;--c:1449;--d:478"></div>
<div class="t g" style="--a:1451;--b:464;--c:1466;--d:478"></div>
<div class="t m" style="--a:1428;--b:480;--c:1449;--d:515"></div>
<div class="t r1" style="--a:1451;--b:480;--c:1466;--d:515"></div>

<div class="t b S" style="--a:1469;--b:434;--c:1548;--d:515">چفيبر<br>6.49%</div>
<div class="t r3" style="--a:1550;--b:434;--c:1563;--d:515"></div>

<div class="t r3 M" style="--a:1255;--b:539;--c:1298;--d:571">پتاير</div>
<div class="t r3 M" style="--a:1255;--b:572;--c:1298;--d:603">پلاسك</div>
<div class="t r2 M" style="--a:1300;--b:539;--c:1338;--d:569">پكوير</div>
<div class="t r1" style="--a:1339;--b:539;--c:1363;--d:569"></div>
<div class="t r1" style="--a:1300;--b:570;--c:1329;--d:586"></div>
<div class="t d" style="--a:1330;--b:570;--c:1349;--d:595"></div>
<div class="t r2" style="--a:1350;--b:570;--c:1363;--d:595"></div>
<div class="t r3" style="--a:1300;--b:587;--c:1329;--d:603"></div>
<div class="t g" style="--a:1330;--b:596;--c:1363;--d:603"></div>

<div class="t d M" style="--a:1255;--b:626;--c:1304;--d:654">ولصنم</div>
<div class="t b M" style="--a:1255;--b:655;--c:1304;--d:682">ولغدر</div>
<div class="t g" style="--a:1305;--b:626;--c:1334;--d:654">...و</div>
<div class="t m" style="--a:1335;--b:626;--c:1363;--d:654">...و</div>
<div class="t r1" style="--a:1305;--b:655;--c:1329;--d:669"></div>
<div class="t r1" style="--a:1305;--b:670;--c:1329;--d:682"></div>
<div class="t r1" style="--a:1330;--b:655;--c:1349;--d:682"></div>
<div class="t r3" style="--a:1350;--b:655;--c:1363;--d:675"></div>
<div class="t d" style="--a:1350;--b:676;--c:1363;--d:682"></div>

<div class="t g S" style="--a:1366;--b:514;--c:1431;--d:562">ملاذ<br>3.14%</div>
<div class="t b" style="--a:1366;--b:563;--c:1392;--d:597">...ج</div>
<div class="t r1" style="--a:1393;--b:563;--c:1412;--d:597"></div>
<div class="t d" style="--a:1413;--b:563;--c:1431;--d:597"></div>
<div class="t r2 S" style="--a:1366;--b:620;--c:1431;--d:682">لپارس<br>-1.28%</div>
<div class="t r3 M" style="--a:1433;--b:514;--c:1488;--d:558">اسياتك</div>
<div class="t g" style="--a:1489;--b:514;--c:1503;--d:558"></div>
<div class="t d M" style="--a:1506;--b:514;--c:1552;--d:558">كماسه</div>
<div class="t d" style="--a:1553;--b:514;--c:1563;--d:558"></div>
<div class="t d" style="--a:1433;--b:582;--c:1462;--d:624">...ك</div>
<div class="t d" style="--a:1464;--b:582;--c:1491;--d:615">...كز</div>
<div class="t d" style="--a:1464;--b:616;--c:1484;--d:624"></div>
<div class="t r3" style="--a:1485;--b:616;--c:1491;--d:624"></div>
<div class="t l k M" style="--a:1496;--b:582;--c:1550;--d:605">ماديرا</div>
<div class="t d" style="--a:1551;--b:582;--c:1563;--d:605"></div>
<div class="t d M" style="--a:1495;--b:628;--c:1536;--d:657">حفاري</div>
<div class="t m" style="--a:1538;--b:628;--c:1563;--d:652"></div>
<div class="t d" style="--a:1538;--b:653;--c:1563;--d:657"></div>
<div class="t b M" style="--a:1433;--b:647;--c:1488;--d:682">نطرين</div>
<div class="t r3" style="--a:1489;--b:647;--c:1493;--d:682"></div>
</body></html>
